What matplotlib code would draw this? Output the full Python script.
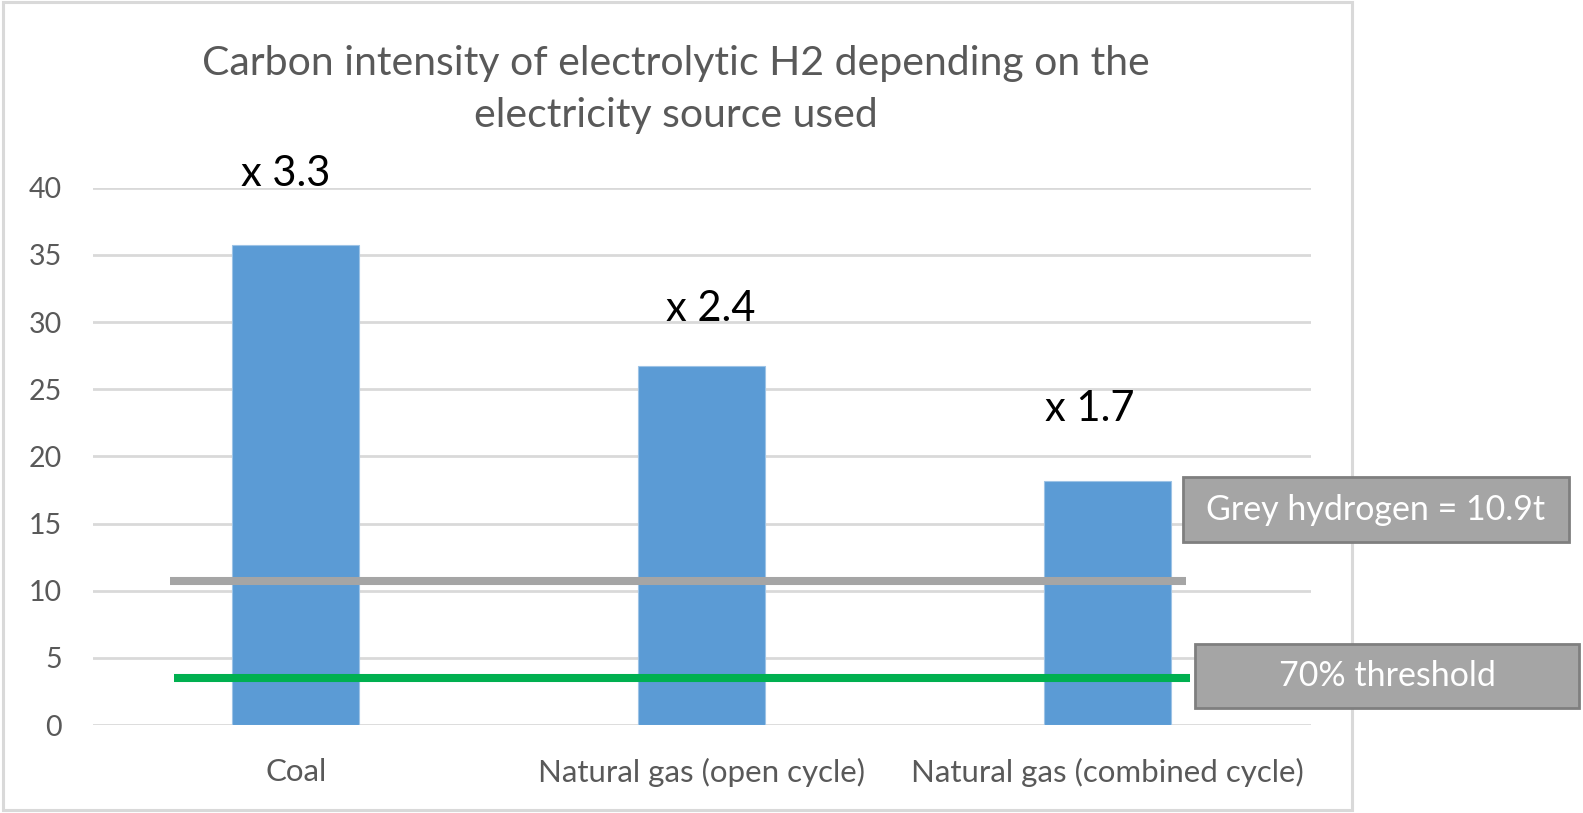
import matplotlib.pyplot as plt
import matplotlib.patches as mpatches
import numpy as np

plt.rcParams['font.family'] = ['Lato', 'DejaVu Sans']

# data
sources = ['Coal', 'Natural gas (open cycle)', 'Natural gas (combined cycle)']
intensity = [35.7, 26.7, 18.15]
multipliers = ['x 3.3', 'x 2.4', 'x 1.7']
grey_h2 = 10.75
threshold = 3.48
y_ticks = [0, 5, 10, 15, 20, 25, 30, 35, 40]

# label placement (data coords) for the multipliers
mult_x = [-0.025, 1.023, 1.956]
mult_y = [40.15, 30.1, 22.66]

W, H = 1583, 813
fig = plt.figure(figsize=(W / 100, H / 100), dpi=100)
ax = fig.add_axes([92.8 / W, 88 / H, (1310.5 - 92.8) / W, (725 - 187.7) / H])

x = np.arange(len(sources))
ax.bar(x, intensity, width=0.313, color='#5b9bd5', edgecolor='#9dc3e6',
       linewidth=0.8, zorder=2)

ax.plot([-0.31, 2.194], [grey_h2, grey_h2], color='#a5a5a5', lw=5.8,
        solid_capstyle='butt', zorder=3)
ax.plot([-0.30, 2.204], [threshold, threshold], color='#00b050', lw=5.8,
        solid_capstyle='butt', zorder=3)

for xi, yi, t in zip(mult_x, mult_y, multipliers):
    ax.text(xi, yi, t, ha='center', va='baseline', fontsize=30, color='black')

ax.set_xlim(-0.5, 2.5)
ax.set_ylim(0, 40)
ax.set_yticks(y_ticks)
ax.yaxis.grid(True, color='#d9d9d9', lw=2, zorder=0)
ax.set_axisbelow(True)
for s in ax.spines.values():
    s.set_visible(False)
ax.tick_params(axis='both', length=0, colors='#595959')
ax.tick_params(axis='y', labelsize=20.5, pad=22)
ax.tick_params(axis='x', labelsize=22.5, pad=24)
ax.set_xticks(x)
ax.set_xticklabels(sources)

# title
fig.text(676 / W, 1 - 63 / H, 'Carbon intensity of electrolytic H2 depending on the',
         ha='center', va='center', fontsize=29.5, color='#595959')
fig.text(676 / W, 1 - 115 / H, 'electricity source used',
         ha='center', va='center', fontsize=29.5, color='#595959')

# chart border
fig.add_artist(mpatches.Rectangle((3 / W, 3 / H), (1351.5 - 3) / W, (811 - 3) / H,
                                  transform=fig.transFigure, fill=False,
                                  edgecolor='#d9d9d9', lw=2.2))

# callout boxes
def callout(x0, x1, ytop, ybot, label):
    fig.add_artist(mpatches.Rectangle((x0 / W, 1 - ybot / H), (x1 - x0) / W,
                                      (ybot - ytop) / H, transform=fig.transFigure,
                                      facecolor='#a5a5a5', edgecolor='#7f7f7f', lw=2))
    fig.text((x0 + x1) / 2 / W, 1 - (ytop + ybot) / 2 / H, label, ha='center',
             va='center', fontsize=24.5, color='white')

callout(1183, 1569, 477, 542, 'Grey hydrogen = 10.9t')
callout(1195, 1579, 643.7, 708, '70% threshold')

fig.savefig('out.png', dpi=100, facecolor='white')
